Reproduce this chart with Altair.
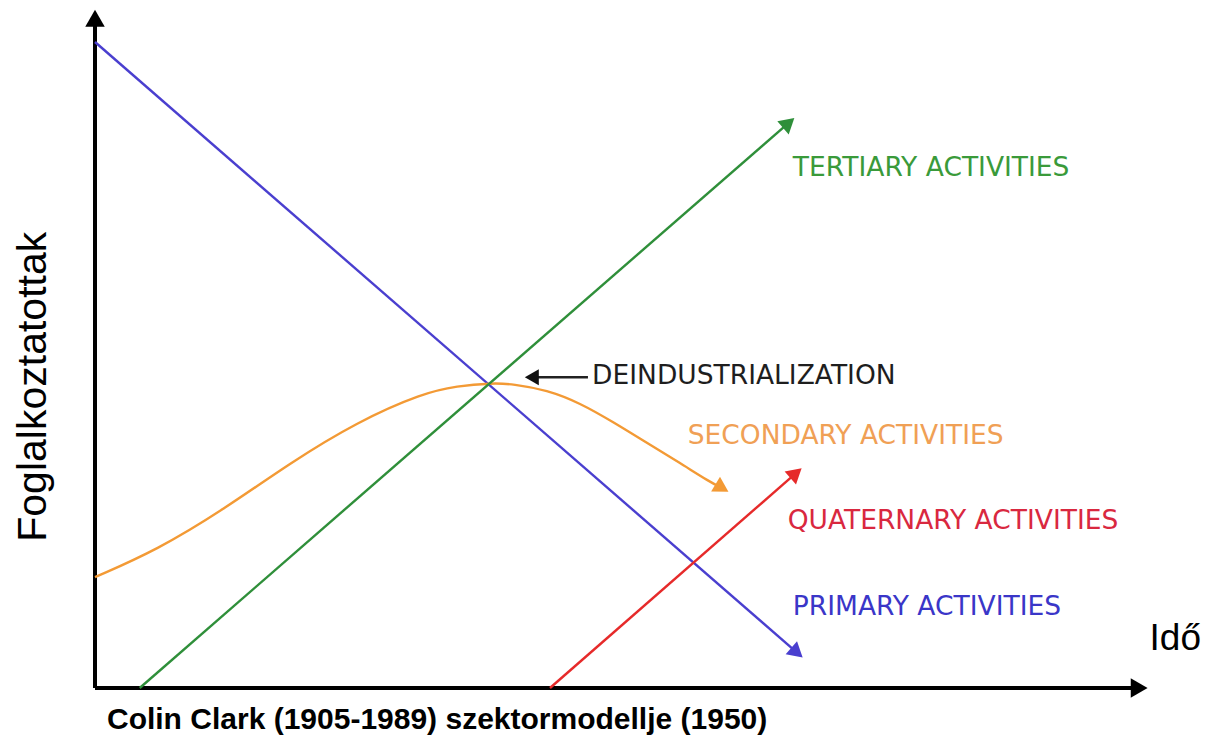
import math
import altair as alt
import pandas as pd

# Abstract units: time (Idő) 0-100 along x, employment (Foglalkoztatottak) 0-100 along y
primary_time = [0.0, 67.5]
primary_emp = [95.0, 5.2]
tertiary_time = [4.3, 66.7]
tertiary_emp = [0.0, 83.1]
quaternary_time = [43.75, 67.4]
quaternary_emp = [0.0, 31.6]
secondary_time = [0.0, 5.96, 12.31, 18.75, 25.19, 31.54, 34.81, 38.17, 40.19,
                  43.46, 46.63, 49.81, 53.08, 56.25, 59.13, 60.29]
secondary_emp = [16.3, 20.3, 26.18, 33.09, 39.12, 43.38, 44.41, 44.85, 44.71,
                 43.82, 41.91, 39.12, 36.03, 33.09, 30.29, 29.41]

label_text = ["TERTIARY ACTIVITIES", "DEINDUSTRIALIZATION", "SECONDARY ACTIVITIES",
              "QUATERNARY ACTIVITIES", "PRIMARY ACTIVITIES"]
label_time = [67.1, 47.8, 57.0, 66.6, 67.1]
label_emp = [76.5, 45.9, 37.1, 24.6, 11.9]

pointer_time = [47.4, 42.0]
pointer_emp = [45.7, 45.7]

axis_x_end = 100.4
axis_y_end = 98.5

y_title = "Foglalkoztatottak"
x_title = "Idő"
caption = "Colin Clark (1905-1989) szektormodellje (1950)"

line_colors = {"Primary": "#4a3fcf", "Secondary": "#f39a35", "Tertiary": "#2f8f3a",
               "Quaternary": "#e62a2a", "axis": "#000000", "pointer": "#222222"}
text_colors = ["#3a9a3a", "#1e1e1e", "#f0a055", "#d9283f", "#3a36c8"]

W, H = 1040, 680
px_t, px_e = W / 100.0, H / 100.0

series = {
    "Primary": (primary_time, primary_emp),
    "Secondary": (secondary_time, secondary_emp),
    "Tertiary": (tertiary_time, tertiary_emp),
    "Quaternary": (quaternary_time, quaternary_emp),
}

rows = []
for name, (ts, es) in series.items():
    for i, (t, e) in enumerate(zip(ts, es)):
        rows.append({"series": name, "t": t, "e": e, "order": i,
                     "color": line_colors[name]})
lines_df = pd.DataFrame(rows)


def heading(t0, e0, t1, e1):
    return math.degrees(math.atan2((t1 - t0) * px_t, (e1 - e0) * px_e)) % 360


heads = []
for name, (ts, es) in series.items():
    k = -3 if len(ts) > 2 else 0
    heads.append({"t": ts[-1], "e": es[-1], "angle": heading(ts[k], es[k], ts[-1], es[-1]),
                  "color": line_colors[name], "size": 300})
heads_df = pd.DataFrame(heads)

axis_heads_df = pd.DataFrame([
    {"t": axis_x_end, "e": 0.0, "angle": 90.0, "color": "#000000", "size": 380},
    {"t": 0.0, "e": axis_y_end, "angle": 0.0, "color": "#000000", "size": 380},
    {"t": pointer_time[1], "e": pointer_emp[1], "angle": 270.0, "color": "#111111", "size": 260},
])

axis_df = pd.DataFrame([
    {"t": 0.0, "e": 0.0, "t2": axis_x_end, "e2": 0.0},
    {"t": 0.0, "e": 0.0, "t2": 0.0, "e2": axis_y_end},
])
pointer_df = pd.DataFrame([{"t": pointer_time[0], "e": pointer_emp[0],
                            "t2": pointer_time[1], "e2": pointer_emp[1]}])

labels_df = pd.DataFrame({"label": label_text, "t": label_time, "e": label_emp,
                          "color": text_colors})

xs = alt.Scale(domain=[0, 100], nice=False, zero=False)
ys = alt.Scale(domain=[0, 100], nice=False, zero=False)
X = lambda f="t": alt.X(f"{f}:Q", scale=xs, axis=None)
Y = lambda f="e": alt.Y(f"{f}:Q", scale=ys, axis=None)

axes = alt.Chart(axis_df).mark_rule(strokeWidth=4, color="black").encode(
    x=X(), y=Y(), x2="t2:Q", y2="e2:Q")

pointer = alt.Chart(pointer_df).mark_rule(strokeWidth=2.5, color="#222222").encode(
    x=X(), y=Y(), x2="t2:Q", y2="e2:Q")

lines = alt.Chart(lines_df).mark_line(strokeWidth=2.4, interpolate="basis").encode(
    x=X(), y=Y(), detail="series:N", order="order:Q",
    color=alt.Color("color:N", scale=None))

heads_layer = alt.Chart(pd.concat([heads_df, axis_heads_df], ignore_index=True)).mark_point(
    shape="triangle-up", filled=True, opacity=1, strokeWidth=0).encode(
    x=X(), y=Y(), angle=alt.Angle("angle:Q", scale=None),
    size=alt.Size("size:Q", scale=None),
    color=alt.Color("color:N", scale=None))

labels = alt.Chart(labels_df).mark_text(
    align="left", baseline="middle", font="DejaVu Sans", fontSize=26.5).encode(
    x=X(), y=Y(), text="label:N", color=alt.Color("color:N", scale=None))

ytitle = alt.Chart(pd.DataFrame({"t": [-5.9], "e": [44.3], "s": [y_title]})).mark_text(
    angle=270, align="center", baseline="middle", font="Liberation Sans",
    fontSize=41, color="black").encode(x=X(), y=Y(), text="s:N")

xtitle = alt.Chart(pd.DataFrame({"t": [101.4], "e": [5.6], "s": [x_title]})).mark_text(
    align="left", baseline="alphabetic", font="Liberation Sans",
    fontSize=37, color="black").encode(x=X(), y=Y(), text="s:N")

cap = alt.Chart(pd.DataFrame({"t": [1.15], "e": [-6.0], "s": [caption]})).mark_text(
    align="left", baseline="alphabetic", font="Liberation Sans", fontWeight="bold",
    fontSize=30, color="black").encode(x=X(), y=Y(), text="s:N")

chart = alt.layer(axes, lines, pointer, heads_layer, labels, ytitle, xtitle, cap).properties(
    width=W, height=H,
    padding={"left": 87, "top": 0, "right": 68, "bottom": 50},
    autosize=alt.AutoSizeParams(type="none"),
    background="white",
).configure_view(stroke=None, strokeWidth=0)

chart.save("out.html", embed_options={"renderer": "svg", "actions": False})
